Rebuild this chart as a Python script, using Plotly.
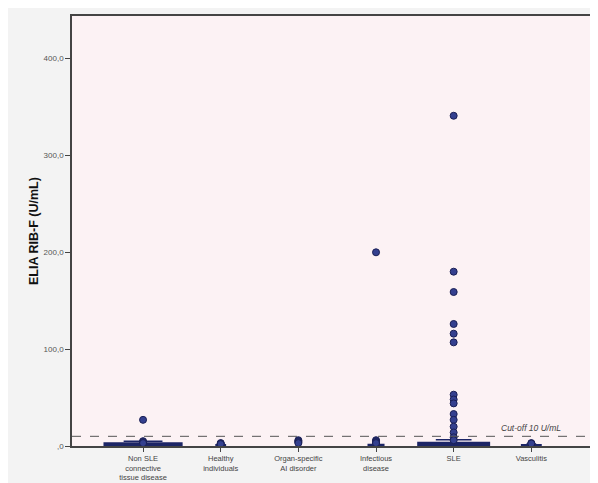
import plotly.graph_objects as go

categories = ["Non SLE<br>connective<br>tissue disease", "Healthy<br>individuals",
              "Organ-specific<br>AI disorder", "Infectious<br>disease", "SLE", "Vasculitis"]
q1 = [0.3, 0.3, 0.3, 0.3, 0.3, 0.3]
median = [1.2, 0.6, 0.5, 0.8, 1.5, 0.6]
q3 = [3.0, 1.2, 0.8, 1.5, 3.5, 1.2]
lowerfence = [0.0, 0.0, 0.0, 0.0, 0.0, 0.0]
upperfence = [5.0, 2.0, 1.5, 2.5, 6.5, 2.0]
box_widths = [1.0, 0.12, 0.02, 0.2, 0.92, 0.25]

outliers = [
    [27, 5, 4, 3],
    [3, 2.5, 2],
    [6, 5, 4, 3],
    [200, 6, 5, 4, 3],
    [341, 180, 159, 126, 116, 107, 53, 48, 44, 33, 27, 20, 14, 9, 6],
    [3, 2.5],
]

cutoff = 10
tickvals = [0, 100, 200, 300, 400]
ticktext = [",0", "100,0", "200,0", "300,0", "400,0"]

navy = "#1c2566"
point = "#34408f"

fig = go.Figure()
for i, c in enumerate(categories):
    fig.add_trace(go.Box(
        x=[i], q1=[q1[i]], median=[median[i]], q3=[q3[i]],
        lowerfence=[lowerfence[i]], upperfence=[upperfence[i]],
        width=box_widths[i], fillcolor=navy, line=dict(color=navy, width=1.5),
        boxpoints=False, showlegend=False, hoverinfo="skip"))
    fig.add_trace(go.Scatter(
        x=[i] * len(outliers[i]), y=outliers[i], mode="markers",
        marker=dict(size=7, color=point, line=dict(color="#1a1f55", width=1)),
        showlegend=False, hoverinfo="skip"))

fig.add_hline(y=cutoff, line=dict(color="#555555", width=1, dash="dash"))
fig.add_annotation(x=5.0, y=cutoff + 1.5, text="<i>Cut-off 10 U/mL</i>", showarrow=False,
                   xref="x", yref="y", yanchor="bottom",
                   font=dict(size=8.5, color="#444444", family="Liberation Sans"))

fig.add_annotation(x=(17 - 64) / 523, y=0.5, xref="paper", yref="paper",
                   text="<b>ELIA RIB-F (U/mL)</b>", textangle=-90, showarrow=False,
                   font=dict(size=12.5, color="#111111", family="Liberation Sans"))

fig.update_layout(
    width=590, height=475,
    margin=dict(l=64, r=3, t=8, b=37, autoexpand=False),
    paper_bgcolor="#f3f3f3", plot_bgcolor="#fcf2f4",
    font=dict(family="Liberation Sans", size=8, color="#444444"),
    xaxis=dict(tickmode="array", tickvals=list(range(6)), ticktext=categories,
               range=[-0.915, 5.82], showline=True, linecolor="#444444", linewidth=1.5,
               mirror=True, ticks="outside", ticklen=4, tickcolor="#444444",
               showgrid=False, zeroline=False, automargin=False,
               tickfont=dict(size=7.5, color="#444444")),
    yaxis=dict(range=[0, 444], tickmode="array", tickvals=tickvals, ticktext=ticktext,
               showline=True, linecolor="#444444", linewidth=1.5, mirror=True,
               ticks="outside", ticklen=5, tickcolor="#444444", showgrid=False,
               zeroline=False, automargin=False, tickfont=dict(size=8, color="#555555")),
)

fig.write_html("out.html")
